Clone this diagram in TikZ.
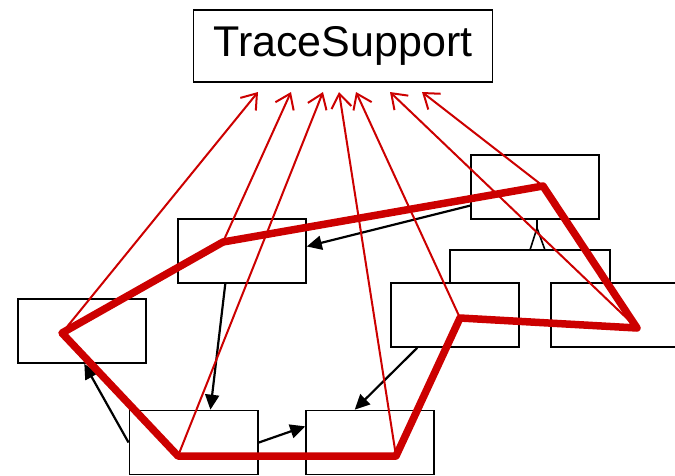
\documentclass[tikz,border=0pt]{standalone}
\usepackage{fontspec}
\setmainfont{Liberation Sans}
\usetikzlibrary{arrows.meta}
\definecolor{tracered}{RGB}{204,0,0}

\begin{document}
\begin{tikzpicture}[x=1pt, y=-1pt,
        box/.style={draw, line width=1.6pt, minimum width=128pt, minimum height=64pt, inner sep=0pt},
        dep/.style={line width=2.2pt, -{Triangle[length=15pt, width=14pt]}},
        route/.style={draw=tracered, line width=7.5pt, line join=round},
        link/.style={draw=tracered, line width=2pt, -{Straight Barb[length=14pt, width=20pt]}}]
    \useasboundingbox (0,0) rectangle (675,475);

    \node[box, minimum width=299pt, minimum height=72pt, font=\fontsize{43}{48}\selectfont] (support) at (343,46) {TraceSupport};
    \node[box] (top) at (535,187) {};
    \node[box] (upleft) at (242,251) {};
    \node[box] (left) at (82,331) {};
    \node[box] (mid) at (455,315) {};
    \node[box] (right) at (615,315) {};
    \node[box, minimum width=128.7pt] (lowleft) at (193.7,442.5) {};
    \node[box] (lowmid) at (370,442.5) {};

    % generalisation
    \coordinate (apex) at (537,228);
    \coordinate (barL) at (450,250);
    \coordinate (barR) at (610,250);
    \draw[line width=1.6pt] (top.south -| apex) -- (apex);
    \draw[line width=1.6pt] (530,250) -- (apex) -- (545,250);
    \draw[line width=1.6pt] (barL |- mid.north) -- (barL) -- (barR) -- (barR |- right.north);

    % calls
    \draw[dep] (top.196) -- (upleft.4);
    \draw[dep] (upleft.243) -- (lowleft.63);
    \draw[dep] (mid.221) -- (lowmid.115);
    \draw[dep] (lowleft.east) -- (lowmid.166);
    \draw[dep] (lowleft.west) -- (left.274);

    % trace
    \coordinate (p1) at (543,186);
    \coordinate (p2) at (223,242);
    \coordinate (p3) at (62,333);
    \coordinate (p4) at (178,456);
    \coordinate (p5) at (396,456);
    \coordinate (p6) at (460,318);
    \coordinate (p7) at (637,328);
    \draw[route] (p1) -- (p2) -- (p3) -- (p4) -- (p5) -- (p6) -- (p7) -- cycle;

    \foreach \v/\x in {p3/258, p2/291, p4/323, p5/339, p6/356, p7/390, p1/422} {
        \coordinate (tip-\v) at (\x,92);
        \draw[link] (\v) -- (tip-\v);
    }
\end{tikzpicture}
\end{document}
